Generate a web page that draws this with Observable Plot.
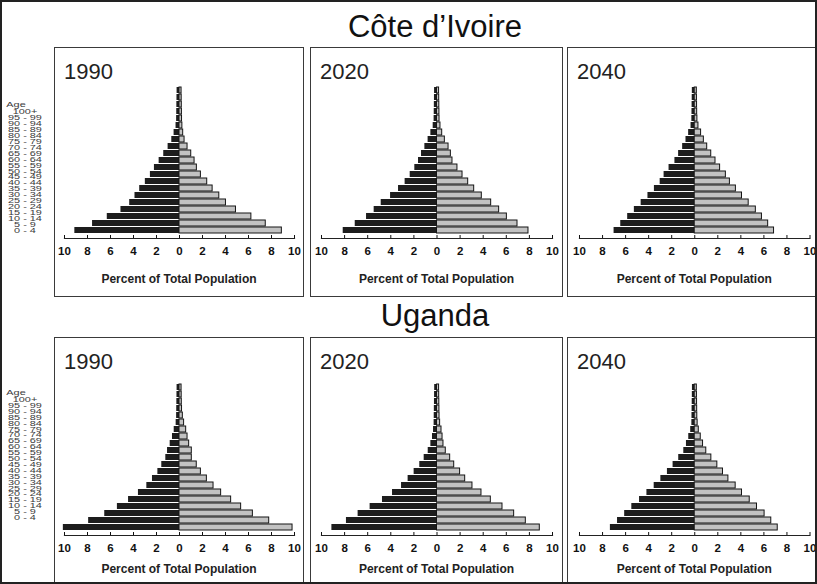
<!DOCTYPE html>
<html><head><meta charset="utf-8">
<script src="https://cdn.jsdelivr.net/npm/d3@7"></script>
<script src="https://cdn.jsdelivr.net/npm/@observablehq/plot@0.6"></script>
<style>
body{margin:0;background:#fff;font-family:Arial,"Liberation Sans",sans-serif;}
#wrap{position:relative;width:817px;height:584px;box-sizing:border-box;border:2px solid #222;overflow:hidden;background:#fff}
.panel{position:absolute;}
.panel svg{position:absolute;left:0;top:0;overflow:visible}
.box{position:absolute;left:0;top:0;right:0;bottom:0;border:1.5px solid #3a3a3a;pointer-events:none}
.year{position:absolute;left:10px;top:14px;font-size:22px;line-height:1;color:#222}
.xlabel{position:absolute;top:226px;font-size:12px;line-height:1;font-weight:bold;color:#222;white-space:nowrap;transform:translateX(-50%)}
.country{position:absolute;left:433px;font-size:31px;line-height:1;color:#111;white-space:nowrap;transform:translateX(-50%)}
.age{position:absolute;left:23px;font-size:6.8px;line-height:1;color:#3a3a3a;white-space:nowrap;transform:translate(-50%,-50%) scaleX(1.6)}
</style>
</head><body>
<div id="wrap"></div>
<script>
const ages = ["0 - 4","5 - 9","10 - 14","15 - 19","20 - 24","25 - 29","30 - 34","35 - 39","40 - 44","45 - 49","50 - 54","55 - 59","60 - 64","65 - 69","70 - 74","75 - 79","80 - 84","85 - 89","90 - 94","95 - 99","100+"];
const years = ["1990","2020","2040"];
const countries = ["Côte d’Ivoire","Uganda"];
const tickValues = [-10,-8,-6,-4,-2,0,2,4,6,8,10];
const xLabel = "Percent of Total Population";

const civ1990Male   = [9.1,7.56,6.28,5.09,4.33,3.87,3.46,2.97,2.53,2.18,1.77,1.37,0.99,0.67,0.47,0.3,0.25,0.24,0.23,0.22,0.21];
const civ1990Female = [8.9,7.5,6.25,4.91,4.04,3.46,2.88,2.41,1.86,1.51,1.31,1.02,0.7,0.44,0.32,0.25,0.22,0.21,0.2,0.19,0.18];
const civ2020Male   = [8.12,7.08,6.1,5.44,4.83,4.02,3.33,2.76,2.32,1.92,1.6,1.34,1.05,0.77,0.53,0.33,0.25,0.24,0.23,0.22,0.21];
const civ2020Female = [7.92,6.97,6.05,5.38,4.69,3.88,3.22,2.7,2.21,1.77,1.34,1.2,1.0,0.68,0.45,0.3,0.22,0.21,0.2,0.19,0.18];
const civ2040Male   = [7.0,6.42,5.82,5.24,4.65,4.06,3.5,3.0,2.66,2.23,1.72,1.4,1.05,0.76,0.53,0.32,0.25,0.24,0.23,0.22,0.21];
const civ2040Female = [6.88,6.37,5.83,5.3,4.68,4.1,3.57,3.05,2.7,2.2,1.8,1.43,1.08,0.79,0.55,0.32,0.23,0.21,0.2,0.19,0.18];
const uga1990Male   = [10.1,7.9,6.5,5.4,4.43,3.57,2.84,2.35,1.88,1.54,1.19,1.04,0.81,0.61,0.46,0.29,0.25,0.24,0.23,0.22,0.21];
const uga1990Female = [9.83,7.8,6.38,5.36,4.49,3.62,2.96,2.38,1.86,1.5,1.07,1.07,0.84,0.7,0.58,0.4,0.29,0.22,0.2,0.19,0.18];
const uga2020Male   = [9.1,7.84,6.83,5.79,4.72,3.85,3.07,2.5,1.98,1.49,1.11,0.76,0.53,0.39,0.3,0.25,0.24,0.23,0.22,0.21,0.2];
const uga2020Female = [8.9,7.69,6.68,5.67,4.66,3.85,3.07,2.44,2.0,1.49,1.14,0.76,0.56,0.48,0.39,0.27,0.22,0.21,0.2,0.19,0.18];
const uga2040Male   = [7.32,6.7,6.08,5.46,4.79,4.15,3.52,2.94,2.37,1.88,1.39,0.95,0.72,0.52,0.35,0.25,0.24,0.23,0.22,0.21,0.2];
const uga2040Female = [7.2,6.64,6.06,5.4,4.77,4.1,3.55,2.92,2.45,1.96,1.44,1.0,0.72,0.52,0.35,0.25,0.22,0.21,0.2,0.19,0.18];

const series = [
  [[civ1990Male,civ1990Female],[civ2020Male,civ2020Female],[civ2040Male,civ2040Female]],
  [[uga1990Male,uga1990Female],[uga2020Male,uga2020Female],[uga2040Male,uga2040Female]]
];

// layout
const colGeom = [
  {left:52,  w:250, ml:10, mr:10},
  {left:308, w:253, ml:11, mr:11},
  {left:565, w:249, ml:12, mr:6.5}
];
const rowGeom = [
  {top:45,  h:250, mt:35, mb:59, titleTop:9,   ageTop:229, ageStep:5.95, ageLabelY:103},
  {top:335, h:248, mt:42, mb:50, titleTop:298, ageTop:516, ageStep:5.9,  ageLabelY:391}
];

const wrap = document.getElementById("wrap");

function pyramid(male, female, g) {
  const rows = ages.map((age, i) => ({age, male: male[i], female: female[i]}));
  return Plot.plot({
    width: g.w, height: g.h,
    marginLeft: g.ml, marginRight: g.mr, marginTop: g.mt, marginBottom: g.mb,
    style: {background: "transparent", fontFamily: "Arial, 'Liberation Sans', sans-serif", overflow: "visible"},
    x: {domain: [-10, 10]},
    y: {type: "band", domain: ages.slice().reverse(), paddingInner: 0.14, paddingOuter: 0.04, axis: null},
    marks: [
      Plot.barX(rows, {x: d => -d.male, y: "age", fill: "#1d1d1d"}),
      Plot.barX(rows, {x: "female", y: "age", fill: "#c2c2c2", stroke: "#141414", strokeWidth: 1}),
      Plot.frame({anchor: "bottom", stroke: "#222", strokeWidth: 1.2}),
      Plot.axisX(tickValues, {tickSize: -3, tickPadding: 11, tickFormat: d => Math.abs(d), fontSize: 11.5, fontWeight: "bold", color: "#111", label: null})
    ]
  });
}

rowGeom.forEach((r, ri) => {
  const t = document.createElement("div");
  t.className = "country";
  t.style.top = r.titleTop + "px";
  t.textContent = countries[ri];
  wrap.appendChild(t);

  const a = document.createElement("div");
  a.className = "age";
  a.style.left = "14px";
  a.style.top = r.ageLabelY + "px";
  a.textContent = "Age";
  wrap.appendChild(a);
  ages.forEach((lab, i) => {
    const d = document.createElement("div");
    d.className = "age";
    d.style.top = (r.ageTop - i * r.ageStep) + "px";
    d.textContent = lab;
    wrap.appendChild(d);
  });

  colGeom.forEach((c, ci) => {
    const g = {w: c.w, h: r.h, ml: c.ml, mr: c.mr, mt: r.mt, mb: r.mb};
    const p = document.createElement("div");
    p.className = "panel";
    p.style.left = c.left + "px";
    p.style.top = r.top + "px";
    p.style.width = c.w + "px";
    p.style.height = r.h + "px";
    const [m, f] = series[ri][ci];
    p.appendChild(pyramid(m, f, g));
    const y = document.createElement("div");
    y.className = "year";
    y.textContent = years[ci];
    p.appendChild(y);
    const xl = document.createElement("div");
    xl.className = "xlabel";
    xl.style.left = (c.ml + (c.w - c.ml - c.mr) / 2) + "px";
    xl.textContent = xLabel;
    p.appendChild(xl);
    const b = document.createElement("div");
    b.className = "box";
    p.appendChild(b);
    wrap.appendChild(p);
  });
});
</script>
</body></html>
